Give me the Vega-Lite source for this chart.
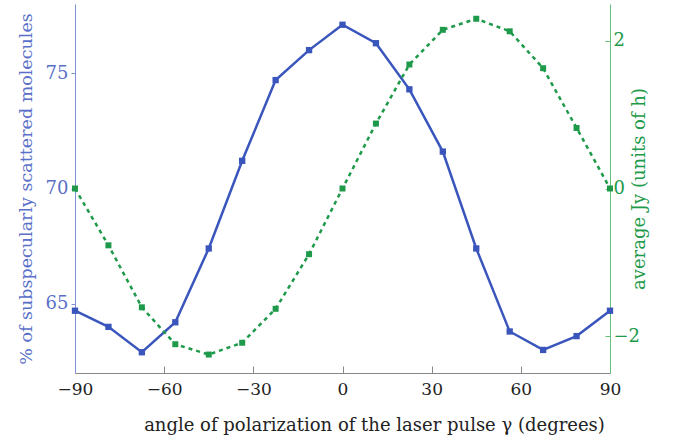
{
  "$schema": "https://vega.github.io/schema/vega-lite/v6.json",
  "width": 535,
  "height": 369,
  "autosize": "none",
  "padding": {"left": 75, "top": 4, "right": 64, "bottom": 67},
  "background": "white",
  "config": {
    "view": {"stroke": null},
    "font": "DejaVu Serif",
    "axis": {"grid": false, "labelFont": "DejaVu Serif", "titleFont": "DejaVu Serif", "titleFontWeight": "normal"}
  },
  "data": {"values": [
    {"angle": -90, "pct": 64.7, "jy": 0.0},
    {"angle": -78.75, "pct": 64.0, "jy": -0.77},
    {"angle": -67.5, "pct": 62.9, "jy": -1.61},
    {"angle": -56.25, "pct": 64.2, "jy": -2.11},
    {"angle": -45, "pct": 67.4, "jy": -2.25},
    {"angle": -33.75, "pct": 71.2, "jy": -2.09},
    {"angle": -22.5, "pct": 74.7, "jy": -1.63},
    {"angle": -11.25, "pct": 76.0, "jy": -0.89},
    {"angle": 0, "pct": 77.1, "jy": 0.0},
    {"angle": 11.25, "pct": 76.3, "jy": 0.88},
    {"angle": 22.5, "pct": 74.3, "jy": 1.68},
    {"angle": 33.75, "pct": 71.6, "jy": 2.15},
    {"angle": 45, "pct": 67.4, "jy": 2.3},
    {"angle": 56.25, "pct": 63.8, "jy": 2.13},
    {"angle": 67.5, "pct": 63.0, "jy": 1.63},
    {"angle": 78.75, "pct": 63.6, "jy": 0.82},
    {"angle": 90, "pct": 64.7, "jy": 0.0}
  ]},
  "encoding": {
    "x": {
      "field": "angle", "type": "quantitative",
      "scale": {"domain": [-90, 90], "nice": false, "zero": false},
      "axis": {
        "values": [-90, -60, -30, 0, 30, 60, 90],
        "title": "angle of polarization of the laser pulse  γ  (degrees)",
        "titleFontSize": 18, "titleColor": "#222", "titleX": 299, "titleY": 52, "titleAlign": "center", "titleBaseline": "middle",
        "labelFontSize": 17, "labelColor": "#222", "labelPadding": 15,
        "domainColor": "#888", "tickColor": "#888", "tickSize": -7, "labelFlush": false
      }
    }
  },
  "layer": [
    {
      "mark": {"type": "line", "color": "#3a56bd", "strokeWidth": 2.5, "point": {"shape": "square", "size": 40, "filled": true, "color": "#3a56bd"}},
      "encoding": {
        "y": {
          "field": "pct", "type": "quantitative",
          "scale": {"domain": [62, 78], "nice": false, "zero": false},
          "axis": {
            "values": [65, 70, 75],
            "title": "% of subspecularly scattered molecules",
            "titleColor": "#5a70c8", "titleFontSize": 17.5, "titlePadding": 10,
            "labelColor": "#5a70c8", "labelFontSize": 18, "labelPadding": 3,
            "domainColor": "#7f8fd8", "tickColor": "#7f8fd8", "tickSize": 4
          }
        }
      }
    },
    {
      "mark": {"type": "line", "color": "#1e9a4a", "strokeWidth": 2.5, "strokeDash": [4, 4], "point": {"shape": "square", "size": 36, "filled": true, "color": "#1e9a4a"}},
      "encoding": {
        "y": {
          "field": "jy", "type": "quantitative",
          "scale": {"domain": [-2.5, 2.5], "nice": false, "zero": false},
          "axis": {
            "orient": "right",
            "values": [-2, 0, 2],
            "title": "average Jy (units of h)",
            "titleAngle": -90, "titleBaseline": "bottom",
            "titleColor": "#1e9a4a", "titleFontSize": 18, "titlePadding": 9,
            "labelColor": "#1e9a4a", "labelFontSize": 18, "labelPadding": 8,
            "domainColor": "#66c07e", "tickColor": "#66c07e", "tickSize": -5
          }
        }
      }
    }
  ],
  "resolve": {"scale": {"y": "independent"}}
}
